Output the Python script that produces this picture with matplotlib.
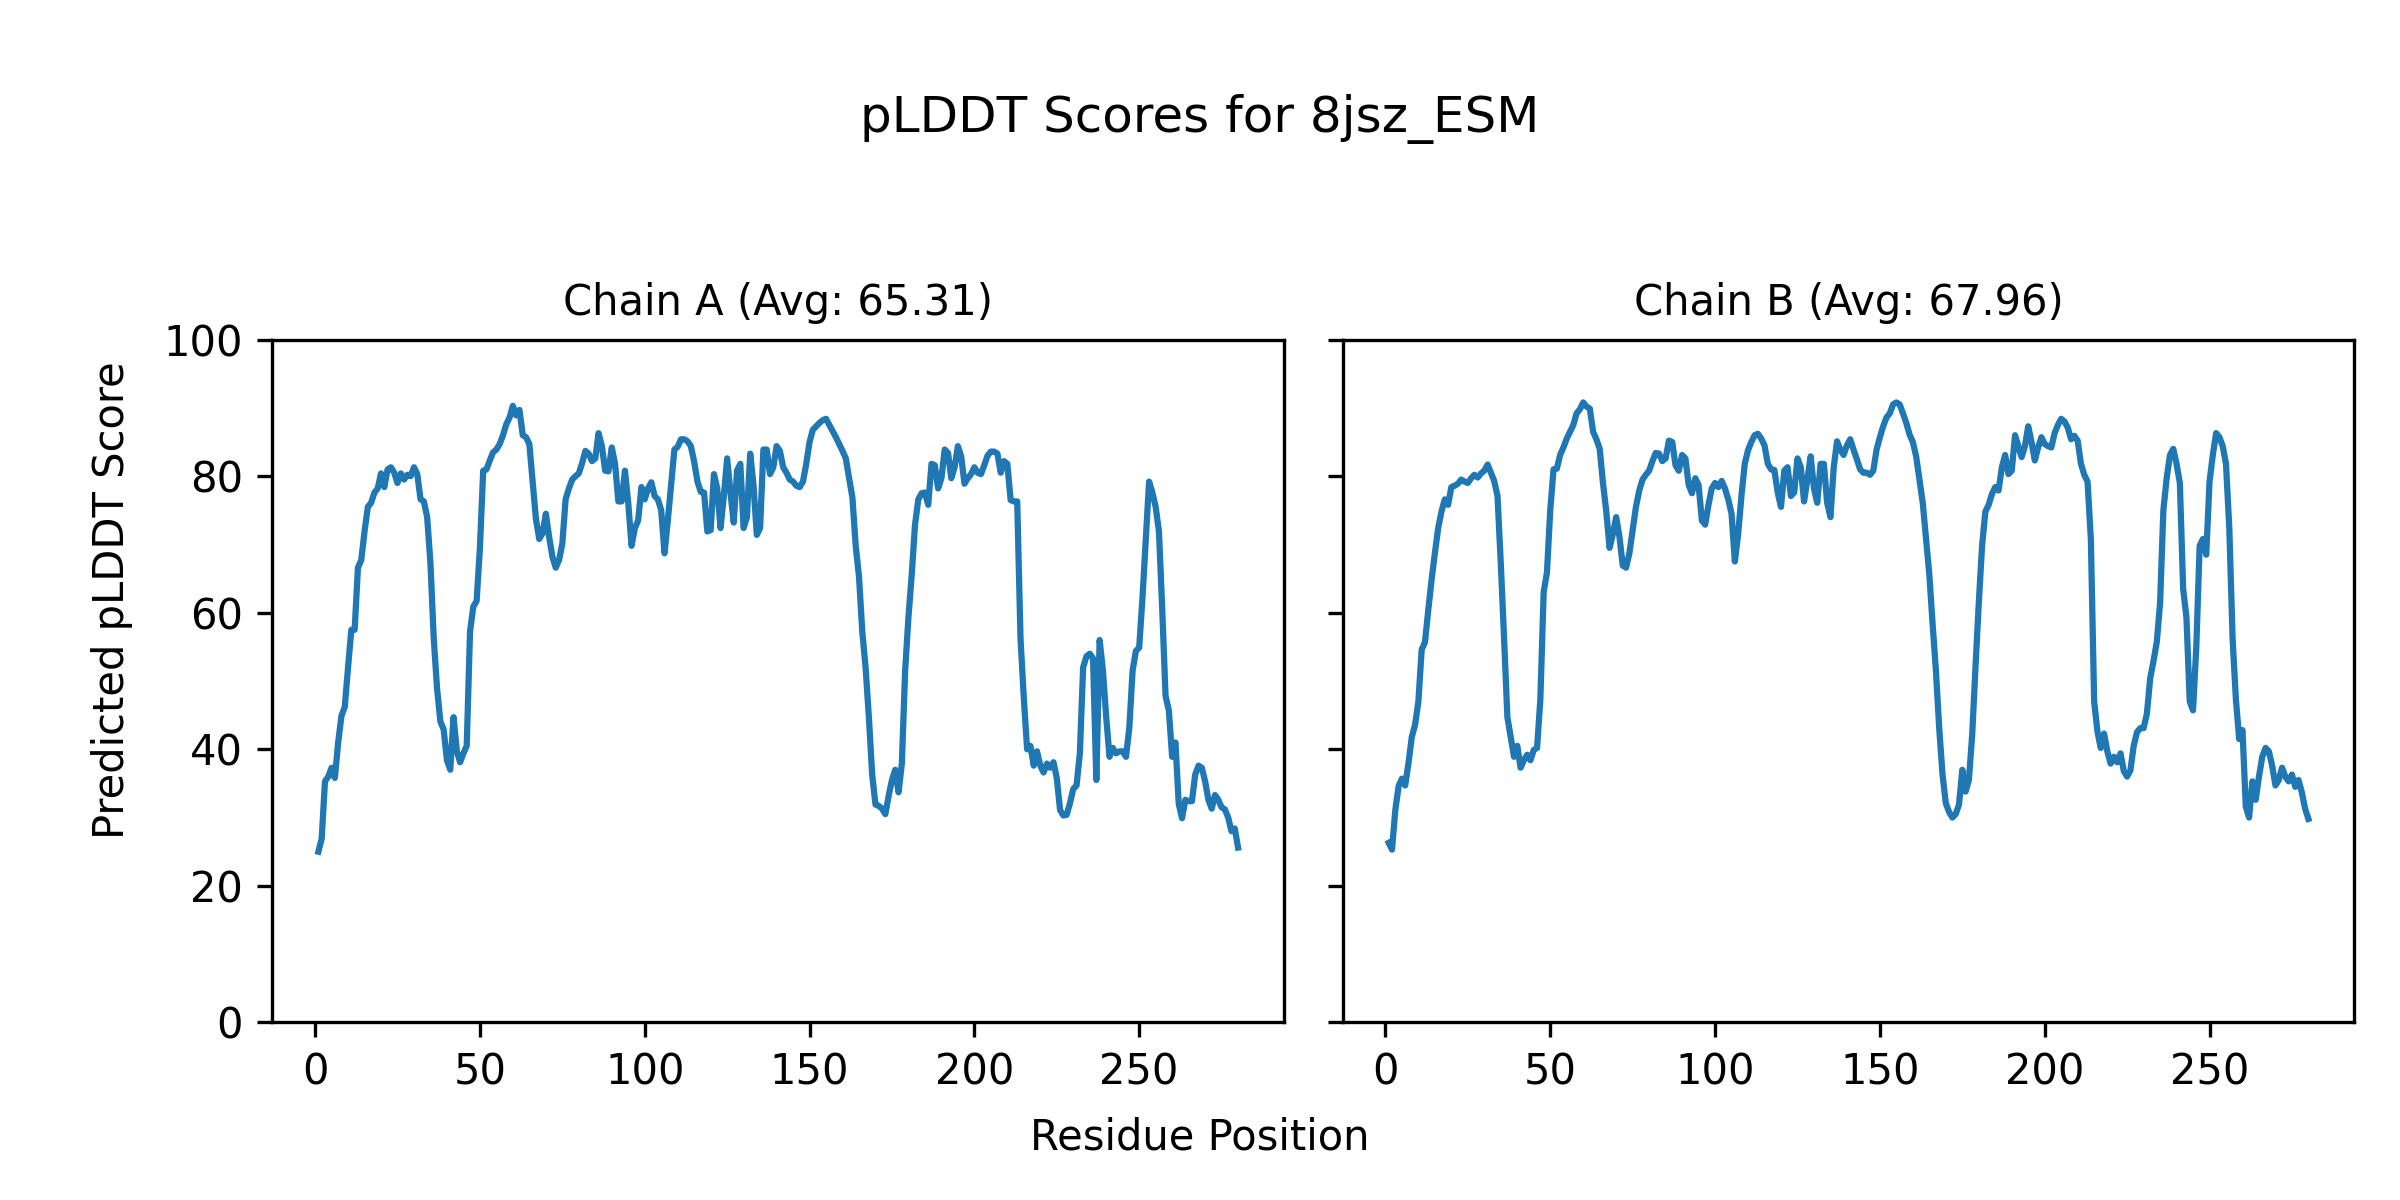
import matplotlib
matplotlib.use('Agg')
import numpy as np
import matplotlib.pyplot as plt

# pLDDT per residue
chain_a_plddt = [
    25.0, 26.9, 35.3, 36.0, 37.3, 35.8, 41.0, 44.9, 46.2, 52.0,
    57.5, 57.5, 66.6, 67.7, 71.9, 75.5, 76.1, 77.6, 78.2, 80.4,
    78.4, 81.0, 81.3, 80.5, 79.0, 80.4, 79.5, 80.2, 80.0, 81.3,
    80.3, 76.6, 76.3, 74.0, 67.2, 56.2, 48.9, 44.1, 42.9, 38.4,
    37.0, 44.7, 39.7, 38.1, 39.4, 40.5, 57.2, 60.9, 61.7, 69.5,
    80.8, 81.0, 82.3, 83.5, 83.9, 84.7, 86.0, 87.6, 88.6, 90.3,
    88.9, 89.7, 86.0, 85.7, 84.7, 79.2, 73.7, 70.8, 71.6, 74.5,
    71.1, 68.2, 66.6, 67.7, 70.1, 76.6, 78.2, 79.5, 80.0, 80.4,
    81.9, 83.7, 83.3, 82.2, 82.6, 86.3, 84.4, 80.8, 80.7, 84.2,
    81.8, 76.3, 76.3, 80.8, 76.1, 69.8, 72.4, 73.5, 78.4, 76.6,
    78.2, 79.1, 77.1, 76.6, 75.0, 68.7, 73.5, 78.7, 83.9, 84.3,
    85.4, 85.4, 85.1, 84.4, 82.1, 79.2, 77.7, 77.6, 71.9, 72.1,
    80.3, 78.2, 72.4, 77.1, 82.6, 77.6, 73.2, 80.8, 81.8, 72.4,
    74.0, 83.3, 78.7, 71.4, 72.4, 83.9, 83.9, 80.3, 81.3, 84.4,
    83.7, 81.3, 80.5, 79.5, 79.2, 78.6, 78.4, 79.2, 81.8, 85.0,
    86.8, 87.3, 87.8, 88.2, 88.4, 87.5, 86.6, 85.7, 84.7, 83.7,
    82.6, 79.7, 76.9, 69.8, 65.3, 57.2, 52.0, 44.7, 36.3, 31.9,
    31.7, 31.3, 30.5, 33.2, 35.5, 37.0, 33.7, 37.9, 51.5, 59.3,
    65.6, 72.9, 76.6, 77.5, 77.6, 75.8, 81.8, 81.6, 78.2, 79.7,
    83.9, 83.4, 79.7, 81.3, 84.4, 82.9, 78.9, 79.7, 80.3, 81.3,
    80.5, 80.3, 81.6, 83.0, 83.6, 83.6, 83.3, 80.5, 82.2, 81.8,
    76.5, 76.3, 76.3, 56.2, 47.5, 40.0, 40.5, 37.6, 39.7, 37.6,
    36.6, 37.9, 37.3, 38.1, 35.8, 31.1, 30.3, 30.4, 32.1, 34.2,
    34.7, 39.4, 52.0, 53.6, 54.0, 53.3, 35.5, 56.0, 51.5, 44.7,
    38.9, 40.2, 39.4, 39.7, 39.7, 38.9, 43.1, 51.5, 54.4, 54.9,
    62.2, 70.8, 79.2, 77.6, 75.5, 71.9, 60.4, 47.8, 45.7, 38.9,
    41.0, 32.0, 29.9, 32.6, 32.4, 32.4, 36.3, 37.6, 37.3, 35.3,
    32.6, 31.3, 33.3, 32.6, 31.5, 31.2, 30.0, 28.0, 28.4, 25.6,
]

chain_b_plddt = [
    26.3, 25.3, 31.1, 34.6, 35.7, 34.7, 38.0, 41.8, 43.6, 47.0,
    54.6, 55.7, 60.4, 64.8, 68.7, 72.4, 74.8, 76.6, 75.8, 78.4,
    78.6, 78.9, 79.5, 79.2, 79.0, 79.7, 80.2, 79.8, 80.4, 80.8,
    81.7, 80.5, 79.3, 77.1, 67.2, 56.2, 44.7, 41.8, 38.9, 40.5,
    37.3, 38.4, 39.2, 38.4, 39.9, 40.2, 47.3, 63.0, 65.9, 75.0,
    81.0, 81.1, 83.1, 84.2, 85.5, 86.5, 87.5, 89.2, 89.8, 90.8,
    90.2, 89.9, 86.5, 85.4, 84.0, 79.0, 74.8, 69.5, 71.5, 74.0,
    71.1, 66.9, 66.6, 68.7, 72.1, 75.5, 77.9, 79.5, 80.2, 80.8,
    82.2, 83.4, 83.3, 82.2, 82.6, 85.2, 85.0, 81.6, 80.8, 83.1,
    82.6, 78.7, 77.5, 79.7, 78.7, 73.5, 72.9, 75.8, 78.2, 79.0,
    78.4, 79.3, 78.2, 76.6, 74.5, 67.5, 71.5, 77.1, 81.8, 83.8,
    85.0, 86.0, 86.2, 85.5, 84.5, 81.8, 81.0, 80.9, 77.6, 75.5,
    80.8, 81.3, 77.1, 77.6, 82.6, 81.3, 76.3, 79.5, 82.9, 78.2,
    76.1, 81.8, 81.8, 76.1, 74.0, 81.3, 85.1, 83.9, 83.1, 84.5,
    85.4, 83.9, 82.5, 81.0, 80.5, 80.5, 80.2, 80.8, 83.9, 85.7,
    87.3, 88.6, 89.2, 90.5, 90.8, 90.5, 89.2, 87.8, 86.1, 85.0,
    82.9, 79.5, 76.1, 70.8, 65.6, 58.3, 51.5, 43.1, 36.3, 32.1,
    30.8, 30.0, 30.5, 31.9, 37.0, 33.8, 35.5, 42.1, 52.0, 61.4,
    69.8, 74.8, 75.8, 77.4, 78.4, 77.9, 81.3, 83.1, 80.3, 80.8,
    86.0, 84.4, 82.8, 84.4, 87.3, 85.0, 82.3, 84.2, 85.7, 84.7,
    84.4, 84.2, 86.3, 87.5, 88.4, 88.0, 87.1, 85.4, 85.9, 85.2,
    81.8, 80.2, 79.2, 70.8, 47.0, 42.6, 40.2, 42.3, 39.7, 37.9,
    38.9, 38.1, 39.4, 36.8, 36.0, 36.9, 40.5, 42.5, 43.1, 43.1,
    45.2, 50.4, 52.9, 55.7, 61.4, 75.0, 79.7, 83.1, 84.0, 81.8,
    79.0, 63.5, 59.3, 47.0, 45.7, 55.1, 69.8, 70.8, 68.5, 79.2,
    83.1, 86.3, 85.7, 84.4, 81.8, 72.4, 56.2, 47.3, 41.5, 42.8,
    31.6, 30.0, 35.3, 32.6, 36.0, 38.9, 40.2, 39.7, 37.6, 34.7,
    35.5, 37.3, 36.0, 35.3, 36.3, 34.5, 35.5, 33.7, 31.3, 29.8,
]

chain_names = ['A', 'B']
chain_avgs = [65.31, 67.96]
model_name = '8jsz_ESM'

fig, axes = plt.subplots(1, 2, figsize=(8, 4), sharey=True)

for ax, name, avg, scores in zip(axes, chain_names, chain_avgs,
                                 [chain_a_plddt, chain_b_plddt]):
    residues = np.arange(1, len(scores) + 1)
    ax.plot(residues, scores, color='#1f77b4')
    ax.set_title(f'Chain {name} (Avg: {avg:.2f})', fontsize=10)
    ax.set_ylim(0, 100)

fig.suptitle(f'pLDDT Scores for {model_name}', fontsize=12,
             y=0.9005, va='center')
fig.supxlabel('Residue Position', fontsize=10, y=0.0523, va='center')
fig.supylabel('Predicted pLDDT Score', fontsize=10, x=0.0466,
              ha='center', va='center')

plt.subplots_adjust(left=0.1135, right=0.981, bottom=0.148, top=0.717,
                    wspace=0.058)
plt.savefig('out.png', dpi=300)
